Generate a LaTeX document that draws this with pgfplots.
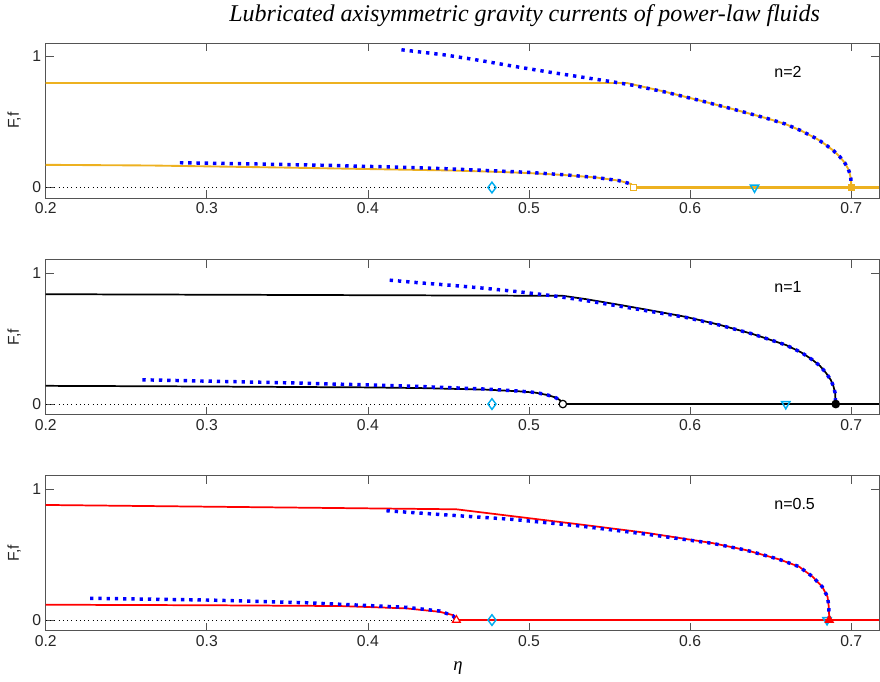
\documentclass[border=0pt]{standalone}
\usepackage{fontspec}
\setmainfont{Liberation Sans}
\newfontfamily\serifit{Liberation Serif}
\usepackage{pgfplots}
\pgfplotsset{compat=1.18}
\definecolor{morange}{rgb}{0.929,0.694,0.125}
\definecolor{framegray}{rgb}{0.33,0.33,0.33}
\definecolor{labgray}{rgb}{0.15,0.15,0.15}
\tikzset{ntext/.style={anchor=west, font=\fontsize{12}{14}\selectfont, text=black}}
\pgfplotsset{
  panel/.style={
    width=625pt, height=116pt, scale only axis,
    xmin=0.2, xmax=0.7173, ymin=-0.08, ymax=1.1,
    xtick={0.2,0.3,0.4,0.5,0.6,0.7}, xticklabels={0.2,0.3,0.4,0.5,0.6,0.7},
    ytick={0,1}, yticklabels={0,1},
    tick align=inside, xtick pos=both, ytick pos=both,
    xticklabel pos=bottom, yticklabel pos=left,
    major tick length=6pt,
    axis line style={framegray, line width=0.6pt},
    every tick/.style={framegray, line width=0.6pt},
    ticklabel style={font=\fontsize{11.8}{13}\selectfont, text=labgray},
    ylabel={F,f},
    ylabel style={font=\fontsize{11.8}{13}\selectfont, text=labgray, at={(axis description cs:-0.038,0.5)}, anchor=center},
    clip=false,
  },
  zerodot/.style={black, line width=0.6pt, dash pattern=on 0.7pt off 2.5pt},
  bluedot/.style={blue, line width=2.6pt, dash pattern=on 2.5pt off 3.7pt, line cap=butt},
  cyandia/.style={only marks, mark=diamond, mark size=4pt, cyan, line width=1.1pt},
  cyantri/.style={only marks, mark=triangle, mark size=3.6pt, cyan, line width=1.1pt, every mark/.append style={rotate=180}},
}
\begin{document}
\begin{tikzpicture}
\useasboundingbox (0pt,0pt) rectangle (660pt,-510.75pt);
\node[anchor=base, font=\serifit\itshape\fontsize{18}{20}\selectfont] at (393.5pt,-16.5pt) {Lubricated axisymmetric gravity currents of power-law fluids};

% ---------- panel 1: n=2 ----------
\begin{axis}[panel, at={(34.3pt,-32.5pt)}, anchor=north west]
\addplot[zerodot] coordinates {(0.2,0) (0.565,0)};
\addplot[morange, line width=1.4pt] coordinates {
(0.2,0.797) (0.561,0.797) (0.565,0.785) (0.585,0.729) (0.606,0.664) (0.626,0.600)
(0.647,0.530) (0.659,0.485) (0.669,0.433) (0.679,0.369) (0.684,0.328) (0.689,0.281)
(0.693,0.234) (0.696,0.188) (0.698,0.145) (0.699,0.112) (0.6998,0.066) (0.7001,0)};
\addplot[morange, line width=1.4pt] coordinates {
(0.2,0.173) (0.265,0.168) (0.349,0.152) (0.451,0.130) (0.479,0.120) (0.499,0.111)
(0.521,0.096) (0.542,0.076) (0.556,0.052) (0.5633,0.027) (0.565,0)};
\addplot[morange, line width=1.8pt] coordinates {(0.565,0) (0.7173,0)};
\addplot[bluedot] coordinates {
(0.4208,1.051) (0.4487,1.010) (0.4693,0.970) (0.490,0.926) (0.5107,0.884) (0.5313,0.845)
(0.552,0.806) (0.565,0.779) (0.585,0.727) (0.606,0.664) (0.626,0.600)
(0.647,0.530) (0.659,0.485) (0.669,0.433) (0.679,0.369) (0.684,0.328) (0.689,0.281)
(0.693,0.234) (0.696,0.188) (0.698,0.145) (0.699,0.112) (0.6998,0.066) (0.7001,0)};
\addplot[bluedot] coordinates {
(0.2833,0.189) (0.329,0.180) (0.379,0.168) (0.419,0.155) (0.449,0.143) (0.479,0.127)
(0.499,0.116) (0.521,0.098) (0.542,0.076) (0.556,0.052) (0.5633,0.027) (0.565,0)};
\addplot[cyandia] coordinates {(0.477,0)};
\addplot[cyantri] coordinates {(0.640,0)};
\addplot[only marks, mark=square*, mark size=2.3pt, morange, line width=0.9pt, mark options={fill=white}] coordinates {(0.565,0)};
\addplot[only marks, mark=square*, mark size=2.3pt, morange, line width=0.9pt] coordinates {(0.7001,0)};
\node[ntext] at (axis cs:0.6494,0.885) {n=2};
\end{axis}

% ---------- panel 2: n=1 ----------
\begin{axis}[panel, at={(34.3pt,-194.9pt)}, anchor=north west]
\addplot[zerodot] coordinates {(0.2,0) (0.521,0)};
\addplot[black, line width=1.3pt] coordinates {
(0.2,0.838) (0.521,0.826) (0.5355,0.800) (0.5561,0.757) (0.5767,0.712) (0.5974,0.665)
(0.6181,0.605) (0.6387,0.535) (0.6594,0.451) (0.669,0.394) (0.676,0.337) (0.6807,0.290)
(0.6842,0.240) (0.6873,0.185) (0.6890,0.135) (0.6900,0.085) (0.6904,0)};
\addplot[black, line width=1.3pt] coordinates {
(0.2,0.139) (0.3,0.134) (0.4,0.127) (0.432,0.122) (0.4735,0.110) (0.494,0.097)
(0.504,0.087) (0.511,0.070) (0.516,0.052) (0.519,0.032) (0.521,0)};
\addplot[black, line width=1.3pt] coordinates {(0.521,0) (0.7173,0)};
\addplot[bluedot] coordinates {
(0.4135,0.945) (0.432,0.925) (0.4527,0.905) (0.4735,0.882) (0.494,0.856) (0.5148,0.826)
(0.5355,0.789) (0.5561,0.747) (0.5767,0.704) (0.5974,0.661) (0.6181,0.603)
(0.6387,0.535) (0.6594,0.451) (0.669,0.394) (0.676,0.337) (0.6807,0.290)
(0.6842,0.240) (0.6873,0.185) (0.6890,0.135) (0.6900,0.085) (0.6904,0)};
\addplot[bluedot] coordinates {
(0.260,0.185) (0.3,0.175) (0.35,0.162) (0.4,0.146) (0.432,0.134) (0.4527,0.124)
(0.4735,0.114) (0.494,0.099) (0.504,0.088) (0.511,0.071) (0.516,0.052) (0.519,0.032) (0.521,0)};
\addplot[cyandia] coordinates {(0.477,0)};
\addplot[cyantri] coordinates {(0.6594,0)};
\addplot[only marks, mark=*, mark size=2.8pt, black, line width=0.9pt, mark options={fill=white}] coordinates {(0.521,0)};
\addplot[only marks, mark=*, mark size=2.8pt, black, line width=0.9pt] coordinates {(0.6904,0)};
\node[ntext] at (axis cs:0.6494,0.89) {n=1};
\end{axis}

% ---------- panel 3: n=0.5 ----------
\begin{axis}[panel, at={(34.3pt,-356.9pt)}, anchor=north west]
\addplot[zerodot] coordinates {(0.2,0) (0.4549,0)};
\addplot[red, line width=1.3pt] coordinates {
(0.2,0.878) (0.4549,0.845) (0.5313,0.730) (0.5726,0.666) (0.6139,0.587) (0.6346,0.534)
(0.6553,0.463) (0.6677,0.407) (0.676,0.331) (0.682,0.254) (0.6853,0.178) (0.686,0.110)
(0.6863,0.04) (0.6864,0)};
\addplot[red, line width=1.3pt] coordinates {
(0.2,0.117) (0.3,0.113) (0.3825,0.107) (0.4239,0.089) (0.4445,0.063) (0.4528,0.038) (0.4549,0)};
\addplot[red, line width=1.3pt] coordinates {(0.4549,0) (0.7173,0)};
\addplot[bluedot] coordinates {
(0.4115,0.834) (0.4487,0.802) (0.490,0.768) (0.5313,0.718) (0.5726,0.656) (0.6139,0.585)
(0.6346,0.534) (0.6553,0.463) (0.6677,0.407) (0.676,0.331) (0.682,0.254) (0.6853,0.178)
(0.686,0.110) (0.6863,0.04) (0.6864,0)};
\addplot[bluedot] coordinates {
(0.2275,0.166) (0.3,0.153) (0.3619,0.132) (0.4032,0.109) (0.4239,0.097) (0.4445,0.069)
(0.4528,0.033) (0.4549,0)};
\addplot[cyandia] coordinates {(0.477,0)};
\addplot[cyantri] coordinates {(0.685,0)};
\addplot[only marks, mark=triangle*, mark size=3.4pt, red, line width=0.9pt, mark options={fill=white}] coordinates {(0.4549,0)};
\addplot[only marks, mark=triangle*, mark size=3.4pt, red, line width=0.9pt] coordinates {(0.6864,0)};
\node[ntext] at (axis cs:0.6494,0.886) {n=0.5};
\end{axis}

\node[anchor=base, font=\serifit\itshape\fontsize{14}{16}\selectfont] at (343.5pt,-502.5pt) {η};
\end{tikzpicture}
\end{document}
